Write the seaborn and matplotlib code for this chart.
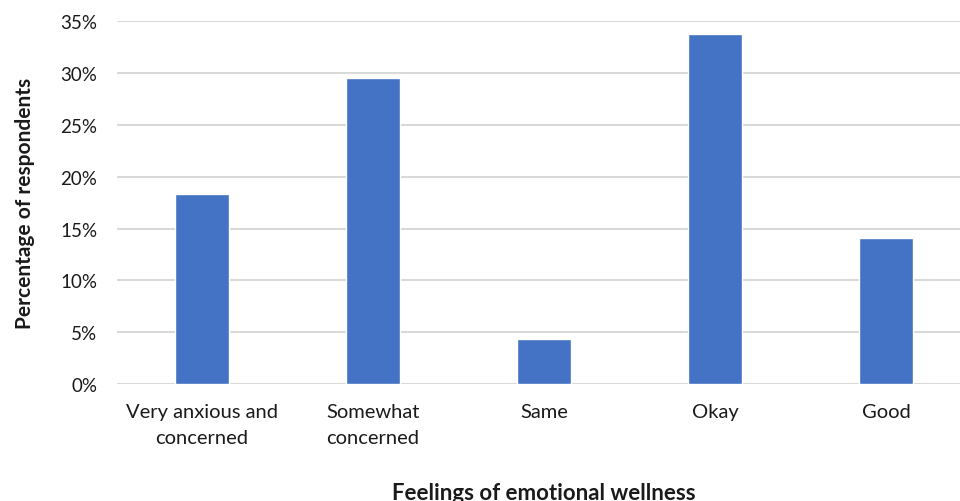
import matplotlib
matplotlib.use("Agg")
import matplotlib.pyplot as plt
import seaborn as sns
import pandas as pd
from matplotlib.ticker import PercentFormatter, MultipleLocator

categories = ["Very anxious and\nconcerned", "Somewhat\nconcerned", "Same", "Okay", "Good"]
shares = [18.3, 29.5, 4.3, 33.8, 14.1]

df = pd.DataFrame({"feeling": categories, "pct": shares})

sns.set_theme(style="white")
plt.rcParams["font.family"] = ["Lato", "DejaVu Sans"]
text_color = "#1a1a1a"
grid_color = "#d9d9d9"

fig = plt.figure(figsize=(9.6, 5.02), dpi=100)
ax = fig.add_axes([0.1214, 0.2331, 0.8906, 0.7225])

sns.barplot(data=df, x="feeling", y="pct", color="#4472C4", saturation=1,
            width=0.316, ax=ax, zorder=3)

ax.set_ylim(0, 35)
ax.yaxis.set_major_locator(MultipleLocator(5))
ax.yaxis.set_major_formatter(PercentFormatter(decimals=0))
ax.grid(axis="y", color=grid_color, linewidth=1.5, zorder=0)
ax.set_axisbelow(True)
for side in ["top", "right", "left", "bottom"]:
    ax.spines[side].set_visible(False)

ax.tick_params(axis="y", length=0, pad=14, labelsize=13.5, labelcolor=text_color)
ax.tick_params(axis="x", length=0, pad=14, labelsize=14.5, labelcolor=text_color)
for lbl in ax.get_xticklabels():
    lbl.set_linespacing(1.6)

ax.set_xlabel("Feelings of emotional wellness", fontsize=16, fontweight="bold",
              color=text_color, labelpad=26)
ax.set_ylabel("Percentage of respondents", fontsize=15, fontweight="bold",
              color=text_color, labelpad=18)

fig.savefig("out.png", dpi=100, facecolor="white")
